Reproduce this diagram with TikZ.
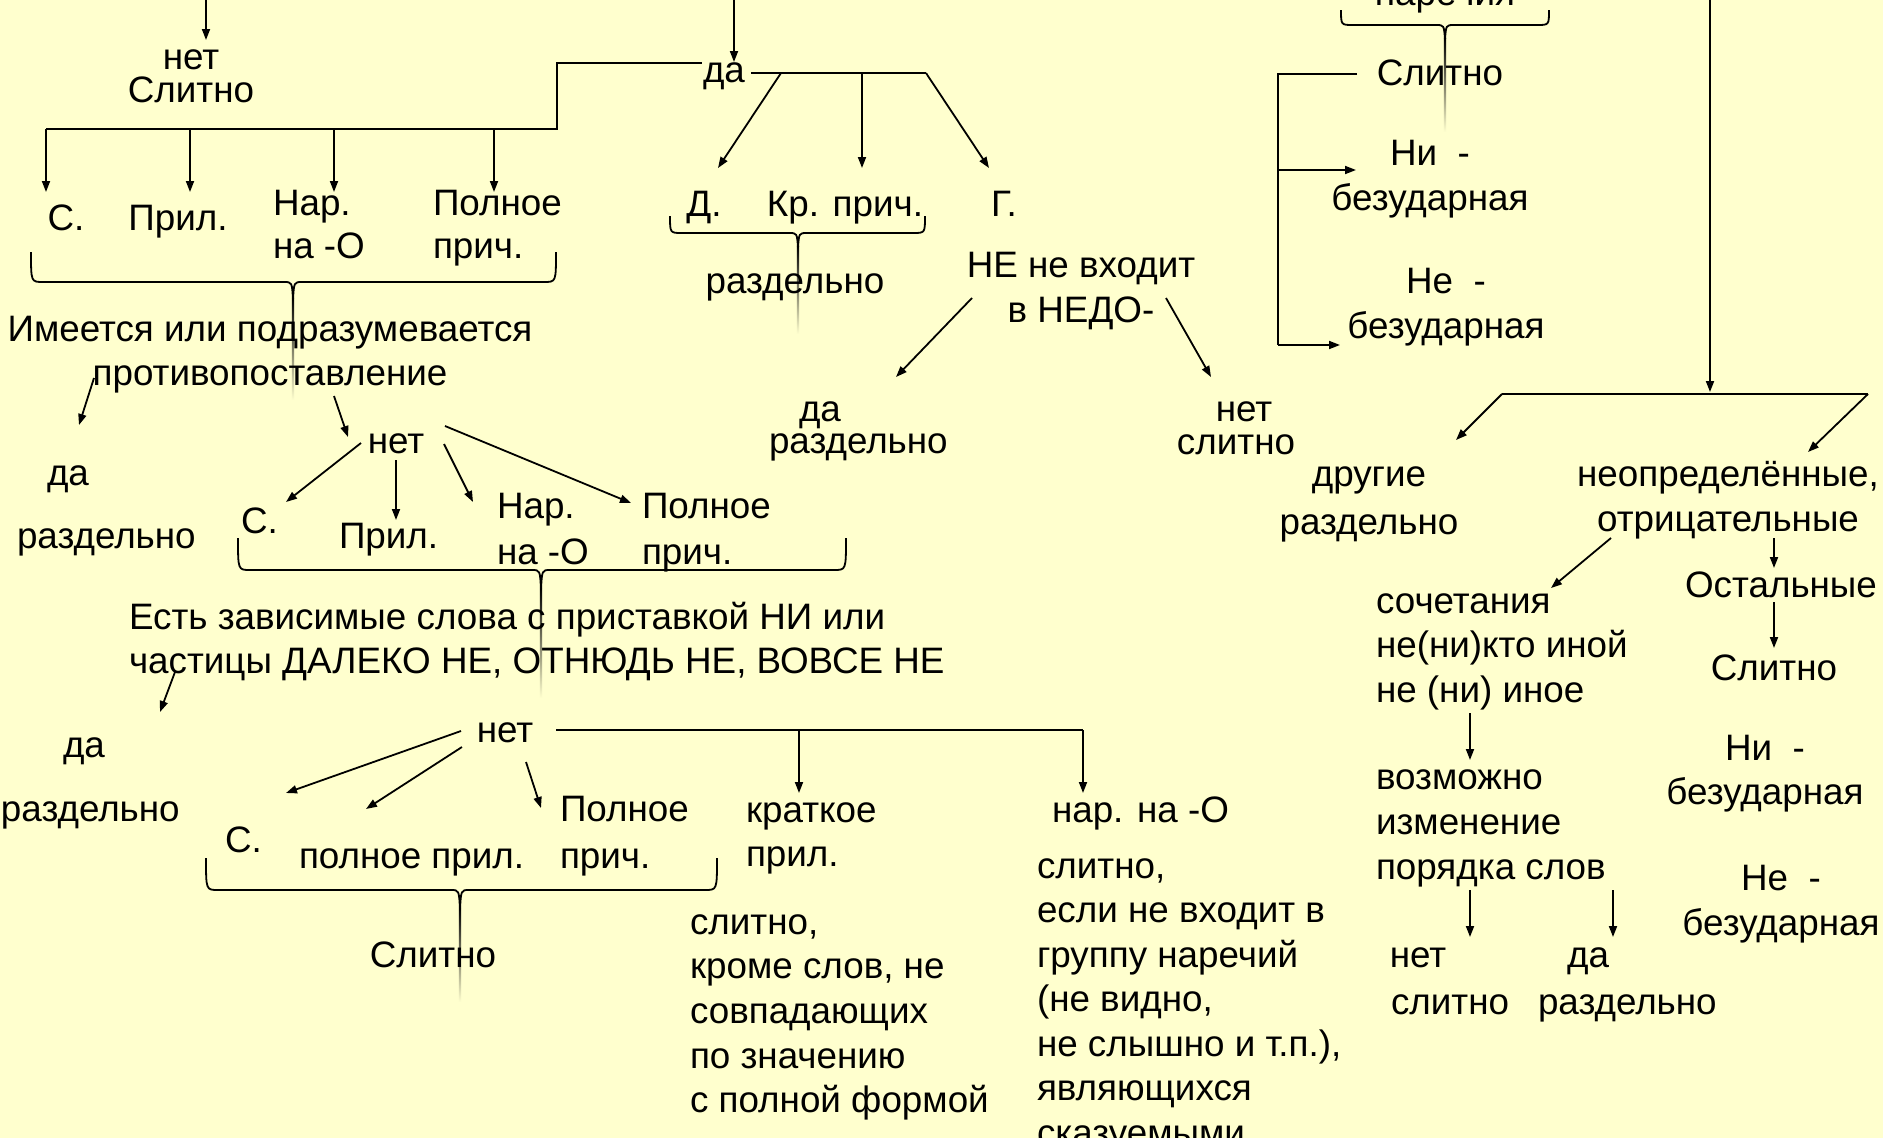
\documentclass[tikz,border=0pt]{standalone}
\usepackage{fontspec}
\setmainfont{Liberation Sans}
\usetikzlibrary{arrows.meta}
\definecolor{bgc}{RGB}{255,255,206}
\newcommand\stkL[2]{\vtop{\baselineskip=#1pt\lineskip=0pt\lineskiplimit=-200pt\halign{##\hfil\cr#2\crcr}}}
\newcommand\stkC[2]{\vtop{\baselineskip=#1pt\lineskip=0pt\lineskiplimit=-200pt\halign{\hfil##\hfil\cr#2\crcr}}}
% curly brace: x1, x2, xmid, ytop, ybottom, ytip
\newcommand\cbr[6]{%
  \draw[brc] (#1,#4) .. controls (#1,#5) .. (#1+12,#5) -- (#3-9,#5)
    .. controls (#3-1,#5) .. (#3,#6) .. controls (#3+1,#5) .. (#3+9,#5)
    -- (#2-12,#5) .. controls (#2,#5) .. (#2,#4);}
% fading line: x, ytop, ybottom
\newcommand\fadeline[3]{\shade[top color=black, bottom color=bgc] (#1-1.1,#2) rectangle (#1+1.1,#3);}
\tikzset{
  lbl/.style={inner sep=0pt, outer sep=0pt, font=\fontsize{36.8}{44}\selectfont, anchor=base},
  lblL/.style={lbl, anchor=base west},
  conn/.style={line width=1.8pt, black},
  arr/.style={conn, -{Triangle[length=11pt,width=8pt]}},
  brc/.style={line width=1.8pt, black},
}
\begin{document}
\begin{tikzpicture}[x=1pt,y=-1pt]
\useasboundingbox (0,0) rectangle (1883,1138);
\fill[bgc] (0,0) rectangle (1883,1138);
\clip (0,0) rectangle (1883,1138);

% ---------------- braces and fading lines ----------------
\fadeline{293}{298}{400}
\fadeline{798}{246}{334}
\fadeline{541}{588}{698}
\fadeline{460}{908}{1002}
\fadeline{1445}{38}{132}
\cbr{31}{556}{293}{252}{282}{300}
\cbr{670}{925}{798}{216}{233}{248}
\cbr{238}{846}{541}{538}{570}{590}
\cbr{206}{717}{460}{858}{890}{910}
\cbr{1341}{1549}{1445}{10}{25}{40}

% ---------------- text ----------------
\node[lbl] (netA) at (191,69) {\stkC{33}{нет\cr Слитно}};
\node[lbl] (daA) at (724,82) {да};
\node[lbl] (sA) at (66,230) {С.};
\node[lbl] (prA) at (178,230) {Прил.};
\node[lblL] (narA) at (273,215) {\stkL{43}{Нар.\cr на -О}};
\node[lblL] (polA) at (433,215) {\stkL{43}{Полное\cr прич.}};
\node[lbl] (dB) at (704,216) {Д.};
\node[lbl] (krB) at (845,216) {Кр. прич.};
\node[lbl] (gB) at (1004,216) {Г.};
\node[lbl] (razB) at (795,293) {раздельно};
\node[lbl] (neB) at (1081,277) {\stkC{45}{НЕ не входит\cr в НЕДО-}};
\node[lbl] (imA) at (270,341) {\stkC{44}{Имеется или подразумевается\cr противопоставление}};
\node[lbl] (daC) at (68,485) {да};
\node[lblL] (razC) at (17,548) {раздельно};
\node[lbl] (daD) at (820,421) {да};
\node[lblL] (razD) at (769,453) {раздельно};
\node[lbl] (netE) at (1244,421) {нет};
\node[lbl] (slE) at (1236,454) {слитно};
\node[lbl] (netF) at (396,453) {нет};
\node[lblL] (sF) at (241,533) {С.};
\node[lblL] (prF) at (339,548) {Прил.};
\node[lblL] (narF) at (497,518) {\stkL{46}{Нар.\cr на -О}};
\node[lblL] (polF) at (642,518) {\stkL{46}{Полное\cr прич.}};
\node[lblL] (estG) at (129,629) {\stkL{44}{Есть зависимые слова с приставкой НИ или\cr частицы ДАЛЕКО НЕ, ОТНЮДЬ НЕ, ВОВСЕ НЕ}};
\node[lbl] (daG) at (84,757) {да};
\node[lblL] (razG) at (1,821) {раздельно};
\node[lbl] (netH) at (505,742) {нет};
\node[lblL] (sH) at (225,852) {С.};
\node[lblL] (polprH) at (299,868) {полное прил.};
\node[lblL] (polH) at (560,821) {\stkL{47}{Полное\cr прич.}};
\node[lblL] (krH) at (746,822) {\stkL{44}{краткое\cr прил.}};
\node[lblL] (narH) at (1052,822) {нар. на -О};
\node[lbl] (slH) at (433,967) {Слитно};
\node[lblL] (slK) at (690,934) {\stkL{44.7}{слитно,\cr кроме слов, не\cr совпадающих\cr по значению\cr с полной формой}};
\node[lblL] (slN) at (1037,878) {\stkL{44.5}{слитно,\cr если не входит в\cr группу наречий\cr (не видно,\cr не слышно и т.п.),\cr являющихся\cr сказуемыми}};
% right part
\node[lbl] (narR) at (1445,5) {наречия};
\node[lbl] (slR) at (1440,85) {Слитно};
\node[lbl] (niR) at (1430,165) {\stkC{45}{Ни\ \ -\cr безударная}};
\node[lbl] (neR) at (1446,293) {\stkC{45}{Не\ \ -\cr безударная}};
\node[lbl] (drR) at (1369,486) {\stkC{48}{другие\cr раздельно}};
\node[lbl] (neoR) at (1728,486) {\stkC{45}{неопределённые,\cr отрицательные}};
\node[lbl] (ostR) at (1781,597) {Остальные};
\node[lbl] (slR2) at (1774,680) {Слитно};
\node[lbl] (niR2) at (1765,760) {\stkC{44}{Ни\ \ -\cr безударная}};
\node[lbl] (neR2) at (1781,890) {\stkC{45}{Не\ \ -\cr безударная}};
\node[lblL] (socR) at (1376,613) {\stkL{44.5}{сочетания\cr не(ни)кто иной\cr не (ни) иное}};
\node[lblL] (vozR) at (1376,789) {\stkL{45}{возможно\cr изменение\cr порядка слов}};
\node[lbl] (netR) at (1418,967) {нет};
\node[lbl] (daR) at (1588,967) {да};
\node[lblL] (slR3) at (1391,1014) {слитно};
\node[lblL] (razR3) at (1538,1014) {раздельно};

% ---------------- connector points ----------------
\foreach \n/\x/\y in {
  a1s/206/0, a1e/206/40, a2s/734/0, a2e/734/62,
  h1a/46/129, h1b/557/129, h1c/557/63, h1d/702/63,
  b1s/46/129, b1e/46/192, b2s/190/129, b2e/190/192,
  b3s/334/129, b3e/334/192, b4s/494/129, b4e/494/192,
  d0/751/73, d3/926/73, d1/781/73, e1/718/168, d2/862/73, e2/862/168, e3/989/168,
  f1s/972/298, f1e/896/377, f2s/1166/298, f2e/1211/377,
  g1s/94/378, g1e/79/425, g2s/334/396, g2e/348/437,
  k1s/361/443, k1e/286/502, k2s/396/460, k2e/396/520,
  k3s/444/444, k3e/473/502, k4s/445/426, k4e/631/503,
  m1s/175/672, m1e/160/712,
  p1s/461/731, p1e/286/793, p2s/462/747, p2e/366/809, p3s/526/762, p3e/541/808,
  q0/556/730, q1/799/730, q1e/799/793, q2/1083/730, q2e/1083/793,
  r0/1357/74, r1/1278/74, r2/1278/345, r2e/1340/345, r3/1278/170, r3e/1356/170,
  s0/1710/0, s0e/1710/392,
  s1/1502/394, s2/1868/394, s1e/1456/440, s2e/1808/452,
  u1s/1611/538, u1e/1551/588, u2s/1774/538, u2e/1774/568, u3s/1774/602, u3e/1774/648,
  v1s/1470/713, v1e/1470/760, v2s/1470/890, v2e/1470/937, v3s/1613/890, v3e/1613/937}
  {\coordinate (\n) at (\x,\y);}

% ---------------- connectors ----------------
\draw[arr] (a1s) -- (a1e);
\draw[arr] (a2s) -- (a2e);
\draw[conn] (h1a) -- (h1b) -- (h1c) -- (h1d);
\draw[arr] (b1s) -- (b1e);
\draw[arr] (b2s) -- (b2e);
\draw[arr] (b3s) -- (b3e);
\draw[arr] (b4s) -- (b4e);
\draw[conn] (d0) -- (d3);
\draw[arr] (d1) -- (e1);
\draw[arr] (d2) -- (e2);
\draw[arr] (d3) -- (e3);
\draw[arr] (f1s) -- (f1e);
\draw[arr] (f2s) -- (f2e);
\draw[arr] (g1s) -- (g1e);
\draw[arr] (g2s) -- (g2e);
\draw[arr] (k1s) -- (k1e);
\draw[arr] (k2s) -- (k2e);
\draw[arr] (k3s) -- (k3e);
\draw[arr] (k4s) -- (k4e);
\draw[arr] (m1s) -- (m1e);
\draw[arr] (p1s) -- (p1e);
\draw[arr] (p2s) -- (p2e);
\draw[arr] (p3s) -- (p3e);
\draw[conn] (q0) -- (q2);
\draw[arr] (q1) -- (q1e);
\draw[arr] (q2) -- (q2e);
\draw[conn] (r0) -- (r1) -- (r2);
\draw[arr] (r2) -- (r2e);
\draw[arr] (r3) -- (r3e);
\draw[arr] (s0) -- (s0e);
\draw[conn] (s1) -- (s2);
\draw[arr] (s1) -- (s1e);
\draw[arr] (s2) -- (s2e);
\draw[arr] (u1s) -- (u1e);
\draw[arr] (u2s) -- (u2e);
\draw[arr] (u3s) -- (u3e);
\draw[arr] (v1s) -- (v1e);
\draw[arr] (v2s) -- (v2e);
\draw[arr] (v3s) -- (v3e);
\end{tikzpicture}
\end{document}
